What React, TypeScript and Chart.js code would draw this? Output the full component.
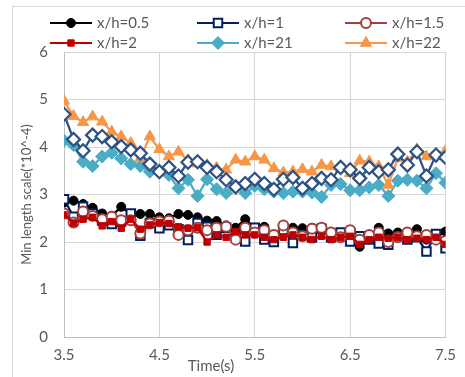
import React, { useEffect, useRef } from "react";
import { Chart, registerables } from "chart.js";
import { drawPoint } from "chart.js/helpers";

Chart.register(...registerables);

const times = [3.5, 3.6, 3.7, 3.8, 3.9, 4.0, 4.1, 4.2, 4.3, 4.4, 4.5, 4.6, 4.7, 4.8, 4.9, 5.0, 5.1, 5.2, 5.3, 5.4, 5.5, 5.6, 5.7, 5.8, 5.9, 6.0, 6.1, 6.2, 6.3, 6.4, 6.5, 6.6, 6.7, 6.8, 6.9, 7.0, 7.1, 7.2, 7.3, 7.4, 7.5];
const xTicks = [3.5, 4.5, 5.5, 6.5, 7.5];
const yTicks = [0, 1, 2, 3, 4, 5, 6];

const xh05 = [2.83, 2.87, 2.80, 2.72, 2.60, 2.55, 2.74, 2.58, 2.59, 2.59, 2.52, 2.50, 2.59, 2.57, 2.52, 2.45, 2.44, 2.35, 2.30, 2.48, 2.30, 2.32, 2.05, 2.25, 2.30, 2.29, 2.30, 2.25, 2.10, 2.15, 2.20, 1.90, 2.10, 2.30, 2.18, 2.20, 2.12, 2.27, 2.05, 2.10, 2.22];
const xh1 = [2.90, 2.53, 2.74, 2.60, 2.45, 2.38, 2.43, 2.60, 2.13, 2.40, 2.29, 2.35, 2.27, 2.04, 2.40, 2.32, 2.15, 2.30, 2.18, 2.01, 2.30, 2.05, 2.00, 2.25, 1.98, 2.15, 2.10, 2.28, 2.10, 2.20, 2.01, 2.12, 2.05, 1.97, 1.94, 2.12, 2.05, 2.10, 1.80, 2.17, 1.87];
const xh15 = [2.60, 2.41, 2.64, 2.55, 2.48, 2.53, 2.46, 2.46, 2.18, 2.39, 2.43, 2.45, 2.15, 2.25, 2.30, 2.25, 2.30, 2.32, 2.05, 2.30, 2.20, 2.25, 2.15, 2.35, 2.20, 2.12, 2.28, 2.30, 2.20, 2.10, 2.25, 2.05, 2.15, 2.20, 2.00, 2.10, 2.20, 2.12, 2.15, 2.05, 2.02];
const xh2 = [2.57, 2.40, 2.48, 2.52, 2.34, 2.43, 2.29, 2.48, 2.27, 2.36, 2.41, 2.39, 2.32, 2.29, 2.30, 2.00, 2.15, 2.10, 2.22, 2.15, 2.15, 2.10, 2.05, 2.10, 2.15, 2.10, 2.05, 2.12, 2.05, 2.10, 2.12, 1.95, 2.05, 2.10, 2.08, 2.10, 2.05, 2.08, 2.05, 2.10, 1.95];
const xh21 = [4.13, 4.04, 3.69, 3.60, 3.80, 3.88, 3.76, 3.64, 3.60, 3.48, 3.50, 3.41, 3.13, 3.31, 2.97, 3.32, 3.11, 3.03, 3.16, 3.03, 3.18, 3.11, 3.06, 3.03, 3.06, 3.06, 3.04, 2.95, 3.20, 3.22, 3.09, 3.09, 3.15, 3.20, 2.97, 3.29, 3.31, 3.29, 3.13, 3.45, 3.25];
const xh22 = [4.97, 4.65, 4.52, 4.64, 4.53, 4.32, 4.22, 4.08, 3.76, 4.22, 3.95, 3.80, 3.90, 3.72, 3.65, 3.62, 3.56, 3.52, 3.73, 3.69, 3.80, 3.73, 3.55, 3.46, 3.48, 3.53, 3.48, 3.62, 3.59, 3.55, 3.45, 3.71, 3.69, 3.59, 3.20, 3.76, 3.69, 3.95, 3.80, 3.81, 3.92];
const extraSeries = [4.69, 4.16, 3.92, 4.25, 4.22, 4.11, 4.01, 3.94, 3.87, 3.64, 3.48, 3.57, 3.39, 3.68, 3.69, 3.57, 3.48, 3.31, 3.16, 3.23, 3.32, 3.23, 3.11, 3.32, 3.36, 3.13, 3.23, 3.34, 3.31, 3.57, 3.52, 3.34, 3.57, 3.48, 3.52, 3.85, 3.62, 3.90, 3.39, 3.83, 3.78];

const seriesNames = ["x/h=0.5", "x/h=1", "x/h=1.5", "x/h=2", "x/h=21", "x/h=22"];
const yTitle = "Min length scale(*10^-4)";
const xTitle = "Time(s)";

const FONT = "Lato";
const TEXT = "#595959";

const toPoints = (vals: number[]) => vals.map((v, i) => ({ x: times[i], y: v }));

const borderBoxPlugin = {
  id: "borderBox",
  beforeDraw(chart: any) {
    const ctx = chart.ctx;
    ctx.save();
    ctx.fillStyle = "#ffffff";
    ctx.fillRect(0, 0, chart.width, chart.height);
    ctx.strokeStyle = "#d9d9d9";
    ctx.lineWidth = 1;
    ctx.strokeRect(12.5, 6.5, chart.width + 20, chart.height + 20);
    ctx.restore();
  },
};

const gridLegendPlugin = {
  id: "gridLegend",
  afterDraw(chart: any) {
    const ctx = chart.ctx;
    const cols = [50, 197, 345];
    const rows = [23, 43];
    ctx.save();
    chart.data.datasets.forEach((ds: any) => {
      if (ds.legendIndex === undefined) return;
      const i = ds.legendIndex;
      const x = cols[i % 3];
      const y = rows[Math.floor(i / 3)];
      ctx.strokeStyle = ds.borderColor;
      ctx.lineWidth = 2;
      ctx.beginPath();
      ctx.moveTo(x, y);
      ctx.lineTo(x + 42, y);
      ctx.stroke();
      ctx.fillStyle = ds.pointBackgroundColor;
      ctx.strokeStyle = ds.pointBorderColor;
      ctx.lineWidth = ds.pointBorderWidth;
      drawPoint(ctx, { pointStyle: ds.pointStyle, radius: ds.pointRadius, rotation: 0, borderWidth: ds.pointBorderWidth } as any, x + 21, y);
      ctx.fillStyle = TEXT;
      ctx.font = `15px ${FONT}`;
      ctx.textAlign = "left";
      ctx.textBaseline = "middle";
      ctx.fillText(ds.label, x + 47, y);
    });
    ctx.fillStyle = TEXT;
    ctx.font = `15px ${FONT}`;
    ctx.textAlign = "center";
    ctx.textBaseline = "middle";
    ctx.fillText(xTitle, 211, 366);
    ctx.restore();
  },
};

export default function App() {
  const ref = useRef<HTMLCanvasElement | null>(null);

  useEffect(() => {
    if (!ref.current) return;
    const mk = (label: string, vals: number[], color: string, style: string, radius: number, fill: string, bw: number, legendIndex: number | undefined, order: number) => ({
      label,
      data: toPoints(vals),
      borderColor: color,
      backgroundColor: color,
      borderWidth: 2.25,
      pointStyle: style,
      pointRadius: radius,
      pointBackgroundColor: fill,
      pointBorderColor: color,
      pointBorderWidth: bw,
      pointHoverRadius: radius,
      tension: 0,
      legendIndex,
      order,
    });
    const datasets = [
      mk(seriesNames[0], xh05, "#000000", "circle", 4.5, "#000000", 1, 0, 7),
      mk(seriesNames[1], xh1, "#002060", "rect", 6, "#ffffff", 2, 1, 6),
      mk(seriesNames[2], xh15, "#a0413f", "circle", 5, "#ffffff", 2, 2, 5),
      mk(seriesNames[3], xh2, "#c00000", "rect", 4.5, "#c00000", 1, 3, 4),
      mk(seriesNames[4], xh21, "#4bacc6", "rectRot", 6.5, "#4bacc6", 1, 4, 3),
      mk(seriesNames[5], xh22, "#f79646", "triangle", 6.5, "#f79646", 1, 5, 2),
      mk("", extraSeries, "#2e5283", "rectRot", 6.5, "#ffffff", 2.25, undefined, 1),
    ];

    Chart.defaults.font.family = FONT;
    const chart = new Chart(ref.current, {
      type: "line",
      data: { datasets: datasets as any },
      options: {
        animation: false,
        responsive: true,
        maintainAspectRatio: false,
        layout: { padding: { left: 13, right: 16, top: 52, bottom: 0 } },
        plugins: { legend: { display: false }, tooltip: { enabled: false } },
        scales: {
          x: {
            type: "linear",
            min: xTicks[0],
            max: xTicks[xTicks.length - 1],
            afterBuildTicks: (s: any) => {
              s.ticks = xTicks.map((v) => ({ value: v }));
            },
            afterFit: (s: any) => {
              s.height = 40;
            },
            ticks: {
              color: TEXT,
              font: { size: 15, family: FONT },
              padding: 9,
              maxRotation: 0,
              callback: (v: any) => String(v),
            },
            grid: { color: "#d6d6d6", lineWidth: 1, drawTicks: false },
            border: { color: "#bfbfbf", width: 1 },
          },
          y: {
            min: yTicks[0],
            max: yTicks[yTicks.length - 1],
            afterBuildTicks: (s: any) => {
              s.ticks = yTicks.map((v) => ({ value: v }));
            },
            afterFit: (s: any) => {
              s.width = 51;
            },
            ticks: {
              color: TEXT,
              font: { size: 15, family: FONT },
              padding: 16,
              callback: (v: any) => String(v),
            },
            grid: { color: "#d6d6d6", lineWidth: 1, drawTicks: false },
            border: { color: "#bfbfbf", width: 1 },
            title: {
              display: true,
              text: yTitle,
              color: TEXT,
              font: { size: 13, family: FONT },
              padding: { top: 6, bottom: 0 },
            },
          },
        },
      },
      plugins: [borderBoxPlugin, gridLegendPlugin],
    });
    return () => chart.destroy();
  }, []);

  return (
    <div style={{ position: "fixed", left: 0, top: 0, width: 465, height: 377, overflow: "hidden", background: "#fff" }}>
      <canvas ref={ref} />
    </div>
  );
}
